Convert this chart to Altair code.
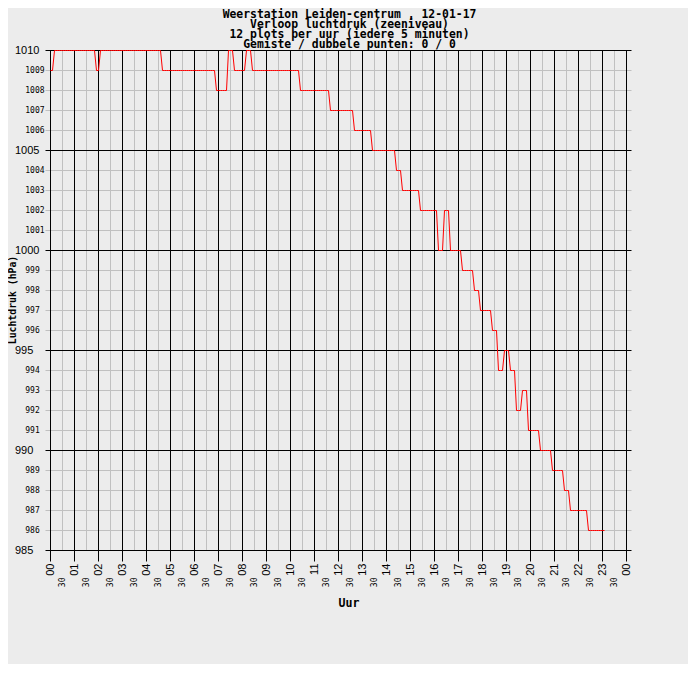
import altair as alt
import pandas as pd

# Luchtdruk (hPa), 12 plots per uur (iedere 5 minuten), one list per hour
h00 = [1009, 1009, 1010, 1010, 1010, 1010, 1010, 1010, 1010, 1010, 1010, 1010]
h01 = [1010, 1010, 1010, 1010, 1010, 1010, 1010, 1010, 1010, 1010, 1010, 1009]
h02 = [1009, 1010, 1010, 1010, 1010, 1010, 1010, 1010, 1010, 1010, 1010, 1010]
h03 = [1010, 1010, 1010, 1010, 1010, 1010, 1010, 1010, 1010, 1010, 1010, 1010]
h04 = [1010, 1010, 1010, 1010, 1010, 1010, 1010, 1010, 1009, 1009, 1009, 1009]
h05 = [1009, 1009, 1009, 1009, 1009, 1009, 1009, 1009, 1009, 1009, 1009, 1009]
h06 = [1009, 1009, 1009, 1009, 1009, 1009, 1009, 1009, 1009, 1009, 1009, 1008]
h07 = [1008, 1008, 1008, 1008, 1008, 1010, 1010, 1010, 1009, 1009, 1009, 1009]
h08 = [1009, 1009, 1010, 1010, 1010, 1009, 1009, 1009, 1009, 1009, 1009, 1009]
h09 = [1009, 1009, 1009, 1009, 1009, 1009, 1009, 1009, 1009, 1009, 1009, 1009]
h10 = [1009, 1009, 1009, 1009, 1009, 1008, 1008, 1008, 1008, 1008, 1008, 1008]
h11 = [1008, 1008, 1008, 1008, 1008, 1008, 1008, 1008, 1007, 1007, 1007, 1007]
h12 = [1007, 1007, 1007, 1007, 1007, 1007, 1007, 1007, 1006, 1006, 1006, 1006]
h13 = [1006, 1006, 1006, 1006, 1006, 1005, 1005, 1005, 1005, 1005, 1005, 1005]
h14 = [1005, 1005, 1005, 1005, 1005, 1004, 1004, 1004, 1003, 1003, 1003, 1003]
h15 = [1003, 1003, 1003, 1003, 1003, 1002, 1002, 1002, 1002, 1002, 1002, 1002]
h16 = [1002, 1002, 1000, 1000, 1000, 1002, 1002, 1002, 1000, 1000, 1000, 1000]
h17 = [1000, 1000, 999, 999, 999, 999, 999, 999, 998, 998, 998, 997]
h18 = [997, 997, 997, 997, 997, 996, 996, 996, 994, 994, 994, 995]
h19 = [995, 995, 994, 994, 994, 992, 992, 992, 993, 993, 993, 991]
h20 = [991, 991, 991, 991, 991, 990, 990, 990, 990, 990, 990, 989]
h21 = [989, 989, 989, 989, 989, 988, 988, 988, 987, 987, 987, 987]
h22 = [987, 987, 987, 987, 987, 986, 986, 986, 986, 986, 986, 986]
h23 = [986, 986]

hours_data = [h00, h01, h02, h03, h04, h05, h06, h07, h08, h09, h10, h11,
              h12, h13, h14, h15, h16, h17, h18, h19, h20, h21, h22, h23]

# axis ticks / labels
hour_labels = ["00", "01", "02", "03", "04", "05", "06", "07", "08", "09", "10", "11",
               "12", "13", "14", "15", "16", "17", "18", "19", "20", "21", "22", "23", "00"]
half_label = "30"
hour_lines = list(range(0, 25))
half_lines = [h + 0.5 for h in range(0, 24)]
hpa_major = [985, 990, 995, 1000, 1005, 1010]
hpa_minor = [986, 987, 988, 989, 991, 992, 993, 994, 996, 997, 998, 999,
             1001, 1002, 1003, 1004, 1006, 1007, 1008, 1009]

title_lines = [
    "Weerstation Leiden-centrum , 12-01-17",
    "Verloop luchtdruk (zeeniveau)",
    "12 plots per uur (iedere 5 minuten)",
    "Gemiste / dubbele punten: 0 / 0",
]
x_title = "Uur"
y_title = "Luchtdruk (hPa)"

rows = []
for h, vals in enumerate(hours_data):
    for i, v in enumerate(vals):
        rows.append({"t": h + i * 5 / 60.0, "p": v})
df = pd.DataFrame(rows)

W, H = 576, 500
BG = "#ececec"
GRAY = "#c0c0c0"
MONO = "DejaVu Sans Mono"
SANS = "Liberation Sans"

xs = alt.Scale(domain=[0, 24], nice=False, zero=False)
ys = alt.Scale(domain=[985, 1010], nice=False, zero=False)

def X(field="t"):
    return alt.X(f"{field}:Q", scale=xs, axis=None)

def Y(field="p"):
    return alt.Y(f"{field}:Q", scale=ys, axis=None)

# grid
vminor = alt.Chart(pd.DataFrame({"t": half_lines})).mark_rule(color=GRAY, strokeWidth=1).encode(
    x=X(), y=alt.value(0), y2=alt.value(H))
hminor = alt.Chart(pd.DataFrame({"p": hpa_minor})).mark_rule(color=GRAY, strokeWidth=1).encode(
    y=Y(), x=alt.value(-5), x2=alt.value(W + 5))
vmajor = alt.Chart(pd.DataFrame({"t": hour_lines})).mark_rule(color="black", strokeWidth=1).encode(
    x=X(), y=alt.value(0), y2=alt.value(H + 11))
hmajor = alt.Chart(pd.DataFrame({"p": hpa_major})).mark_rule(color="black", strokeWidth=1).encode(
    y=Y(), x=alt.value(-5), x2=alt.value(W + 5))

# tick labels (left-aligned columns, as in the original)
ymaj_lab = alt.Chart(pd.DataFrame({"p": hpa_major})).mark_text(
    font=SANS, fontSize=11, align="left", baseline="middle", color="black").encode(
    y=Y(), x=alt.value(-35.5), text="p:Q")
ymin_lab = alt.Chart(pd.DataFrame({"p": hpa_minor})).mark_text(
    font=MONO, fontSize=8, align="left", baseline="middle", color="black").encode(
    y=Y(), x=alt.value(-25.2), text="p:Q")
xhour_lab = alt.Chart(pd.DataFrame({"t": hour_lines, "lab": hour_labels})).mark_text(
    font=SANS, fontSize=11, align="right", baseline="middle", angle=270, color="black").encode(
    x=X(), y=alt.value(H + 13), text="lab:N")
xhalf_lab = alt.Chart(pd.DataFrame({"t": half_lines, "lab": [half_label] * len(half_lines)})).mark_text(
    font=MONO, fontSize=8, align="right", baseline="middle", angle=270, color="black").encode(
    x=X(), y=alt.value(H + 27), text="lab:N")

# axis titles
xt = alt.Chart(pd.DataFrame({"lab": [x_title]})).mark_text(
    font=MONO, fontWeight="bold", fontSize=11.6, align="left", baseline="top", color="black").encode(
    x=alt.value(288), y=alt.value(H + 47.5), text="lab:N")
yt = alt.Chart(pd.DataFrame({"lab": [y_title]})).mark_text(
    font=MONO, fontWeight="bold", fontSize=9.8, align="center", baseline="middle", angle=270,
    color="black").encode(
    x=alt.value(-37.3), y=alt.value(249.5), text="lab:N")

line = alt.Chart(df).mark_line(color="#ff0000", strokeWidth=1, interpolate="linear").encode(
    x=X(), y=Y())

chart = alt.layer(vminor, hminor, vmajor, hmajor, line,
                  ymaj_lab, ymin_lab, xhour_lab, xhalf_lab, xt, yt).properties(
    width=W, height=H,
    title=alt.Title(
        text=title_lines, font=MONO, fontWeight="bold", fontSize=11.4, lineHeight=10,
        color="black", anchor="middle", dx=11, dy=21, offset=4, baseline="bottom",
    ),
    autosize=alt.AutoSizeParams(type="none"),
    padding={"left": 42.5, "top": 42.5, "right": 61.5, "bottom": 113.5},
    background=BG,
).configure_view(stroke=None)

chart.save("out.html", embed_options={"renderer": "svg", "actions": False})
